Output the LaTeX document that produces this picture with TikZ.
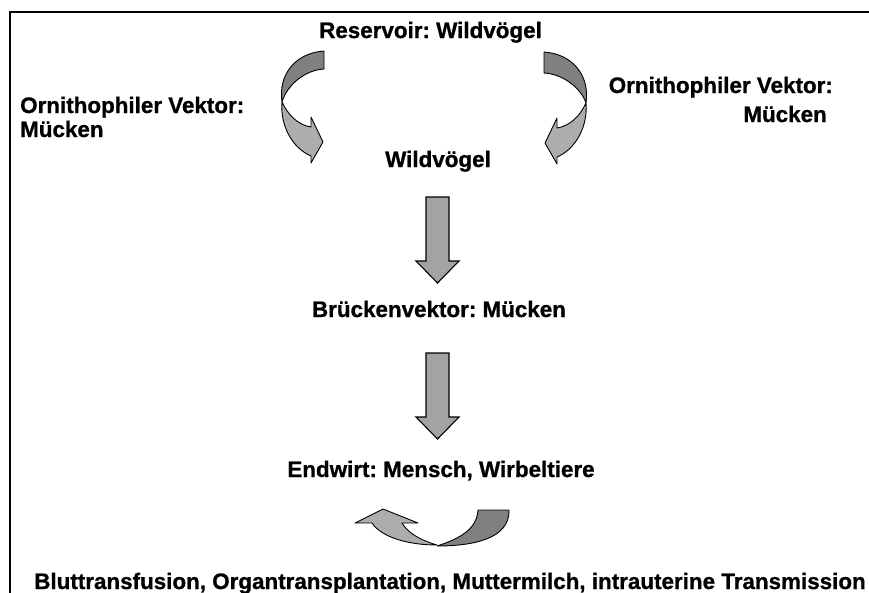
\documentclass[tikz,border=0pt]{standalone}
\usepackage{fontspec}
\setmainfont{Liberation Sans}
\newfontfamily\heavyfont{Liberation Sans Bold}[FakeBold=0.9]
\frenchspacing
\begin{document}
\begin{tikzpicture}[x=1pt,y=-1pt,
  lbl/.style={inner sep=0pt, font=\fontsize{22.4}{24}\selectfont\heavyfont},
  darkpart/.style={fill=black!50, draw=black, line width=0.9pt, line join=round},
  lightpart/.style={fill=black!32, draw=black, line width=0.9pt, line join=round},
  blockarrow/.style={fill=black!36, draw=black, line width=1.1pt, line join=miter}]
\useasboundingbox (0,0) rectangle (869,592);
% frame
\draw[line width=2pt] (870,12) -- (10,12) -- (10,593);

% texts
\node[lbl, anchor=base] (res) at (430.5,38) {Reservoir: Wildvögel};
\node[lbl, anchor=base west] (ovl1) at (20,113) {Ornithophiler Vektor:};
\node[lbl, anchor=base west] (ovl2) at (20,137) {Mücken};
\node[lbl, anchor=base east] (ovr1) at (833,93) {Ornithophiler Vektor:};
\node[lbl, anchor=base east] (ovr2) at (827,122) {Mücken};
\node[lbl, anchor=base] (wild) at (438,167) {Wildvögel};
\node[lbl, anchor=base] (bridge) at (439,317) {Brückenvektor: Mücken};
\node[lbl, anchor=base] (end) at (441,477) {Endwirt: Mensch, Wirbeltiere};
\node[lbl, anchor=base] (trans) at (450,589) {Bluttransfusion, Organtransplantation, Muttermilch, intrauterine Transmission};

% straight block arrows
\draw[blockarrow] (426,197) -- (449,197) -- (449,261) -- (459,261) -- (437.5,283) -- (416,261) -- (426,261) -- cycle;
\draw[blockarrow] (426,353) -- (449,353) -- (449,417) -- (459,417) -- (437.5,439) -- (416,417) -- (426,417) -- cycle;

% left curved arrow
\draw[lightpart] (282,102) .. controls (288,115) and (298,125) .. (311,127) -- (311,117) -- (323,142) -- (311,163) -- (311,156) .. controls (292,148) and (280,125) .. (282,102) -- cycle;
\draw[darkpart] (324,51) -- (324,69) .. controls (305,70) and (287,85) .. (282,102) .. controls (278,75) and (295,53) .. (324,51) -- cycle;

% right curved arrow (mirror)
\begin{scope}[shift={(868,1)}, xscale=-1]
\draw[lightpart] (282,102) .. controls (288,115) and (298,125) .. (311,127) -- (311,117) -- (323,142) -- (311,163) -- (311,156) .. controls (292,148) and (280,125) .. (282,102) -- cycle;
\draw[darkpart] (324,51) -- (324,72) .. controls (305,73) and (287,87) .. (282,102) .. controls (278,75) and (295,53) .. (324,51) -- cycle;
\end{scope}

% bottom curved arrow
\draw[lightpart] (437,545) .. controls (410,545) and (382,538) .. (372,523) -- (355,523) -- (383,509) -- (418,523) -- (402,523) .. controls (408,533) and (420,540) .. (437,545) -- cycle;
\draw[darkpart] (478,510) -- (509,510) .. controls (510,540) and (470,546) .. (437,546) .. controls (462,538) and (477,528) .. (478,510) -- cycle;
\end{tikzpicture}
\end{document}
